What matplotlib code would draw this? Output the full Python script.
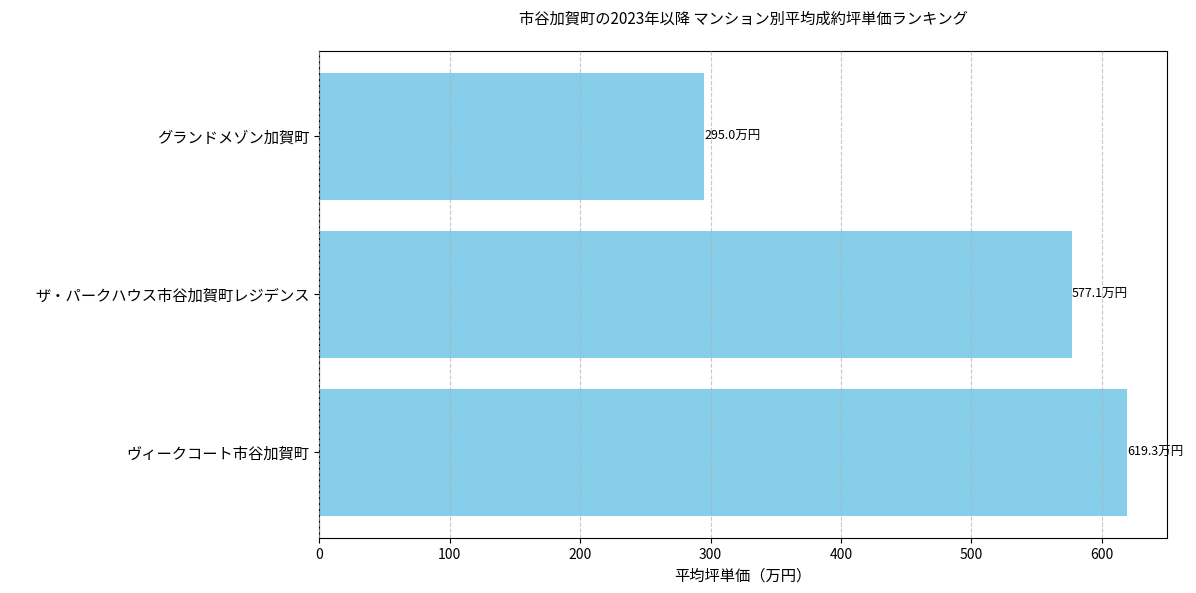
import matplotlib
matplotlib.use("Agg")
import matplotlib.pyplot as plt

plt.rcParams['font.family'] = ['Noto Sans CJK JP', 'DejaVu Sans']

# bottom to top
names = ["ヴィークコート市谷加賀町", "ザ・パークハウス市谷加賀町レジデンス", "グランドメゾン加賀町"]
prices = [619.3, 577.1, 295.0]

fig, ax = plt.subplots(figsize=(11.96, 5.93), dpi=100)
bars = ax.barh(names, prices, color="skyblue")
for b, v in zip(bars, prices):
    ax.text(b.get_width(), b.get_y() + b.get_height() / 2, f"{v:.1f}万円",
            va="center", ha="left", fontsize=9)

ax.set_xlabel("平均坪単価（万円）", fontsize=11)
ax.set_title("市谷加賀町の2023年以降 マンション別平均成約坪単価ランキング", fontsize=11, pad=20)
ax.tick_params(axis="y", labelsize=11)
ax.grid(axis="x", linestyle="--", alpha=0.7)
ax.set_axisbelow(False)

fig.subplots_adjust(left=0.267, right=0.976, top=0.914, bottom=0.093)
fig.savefig("out.png", dpi=100)
